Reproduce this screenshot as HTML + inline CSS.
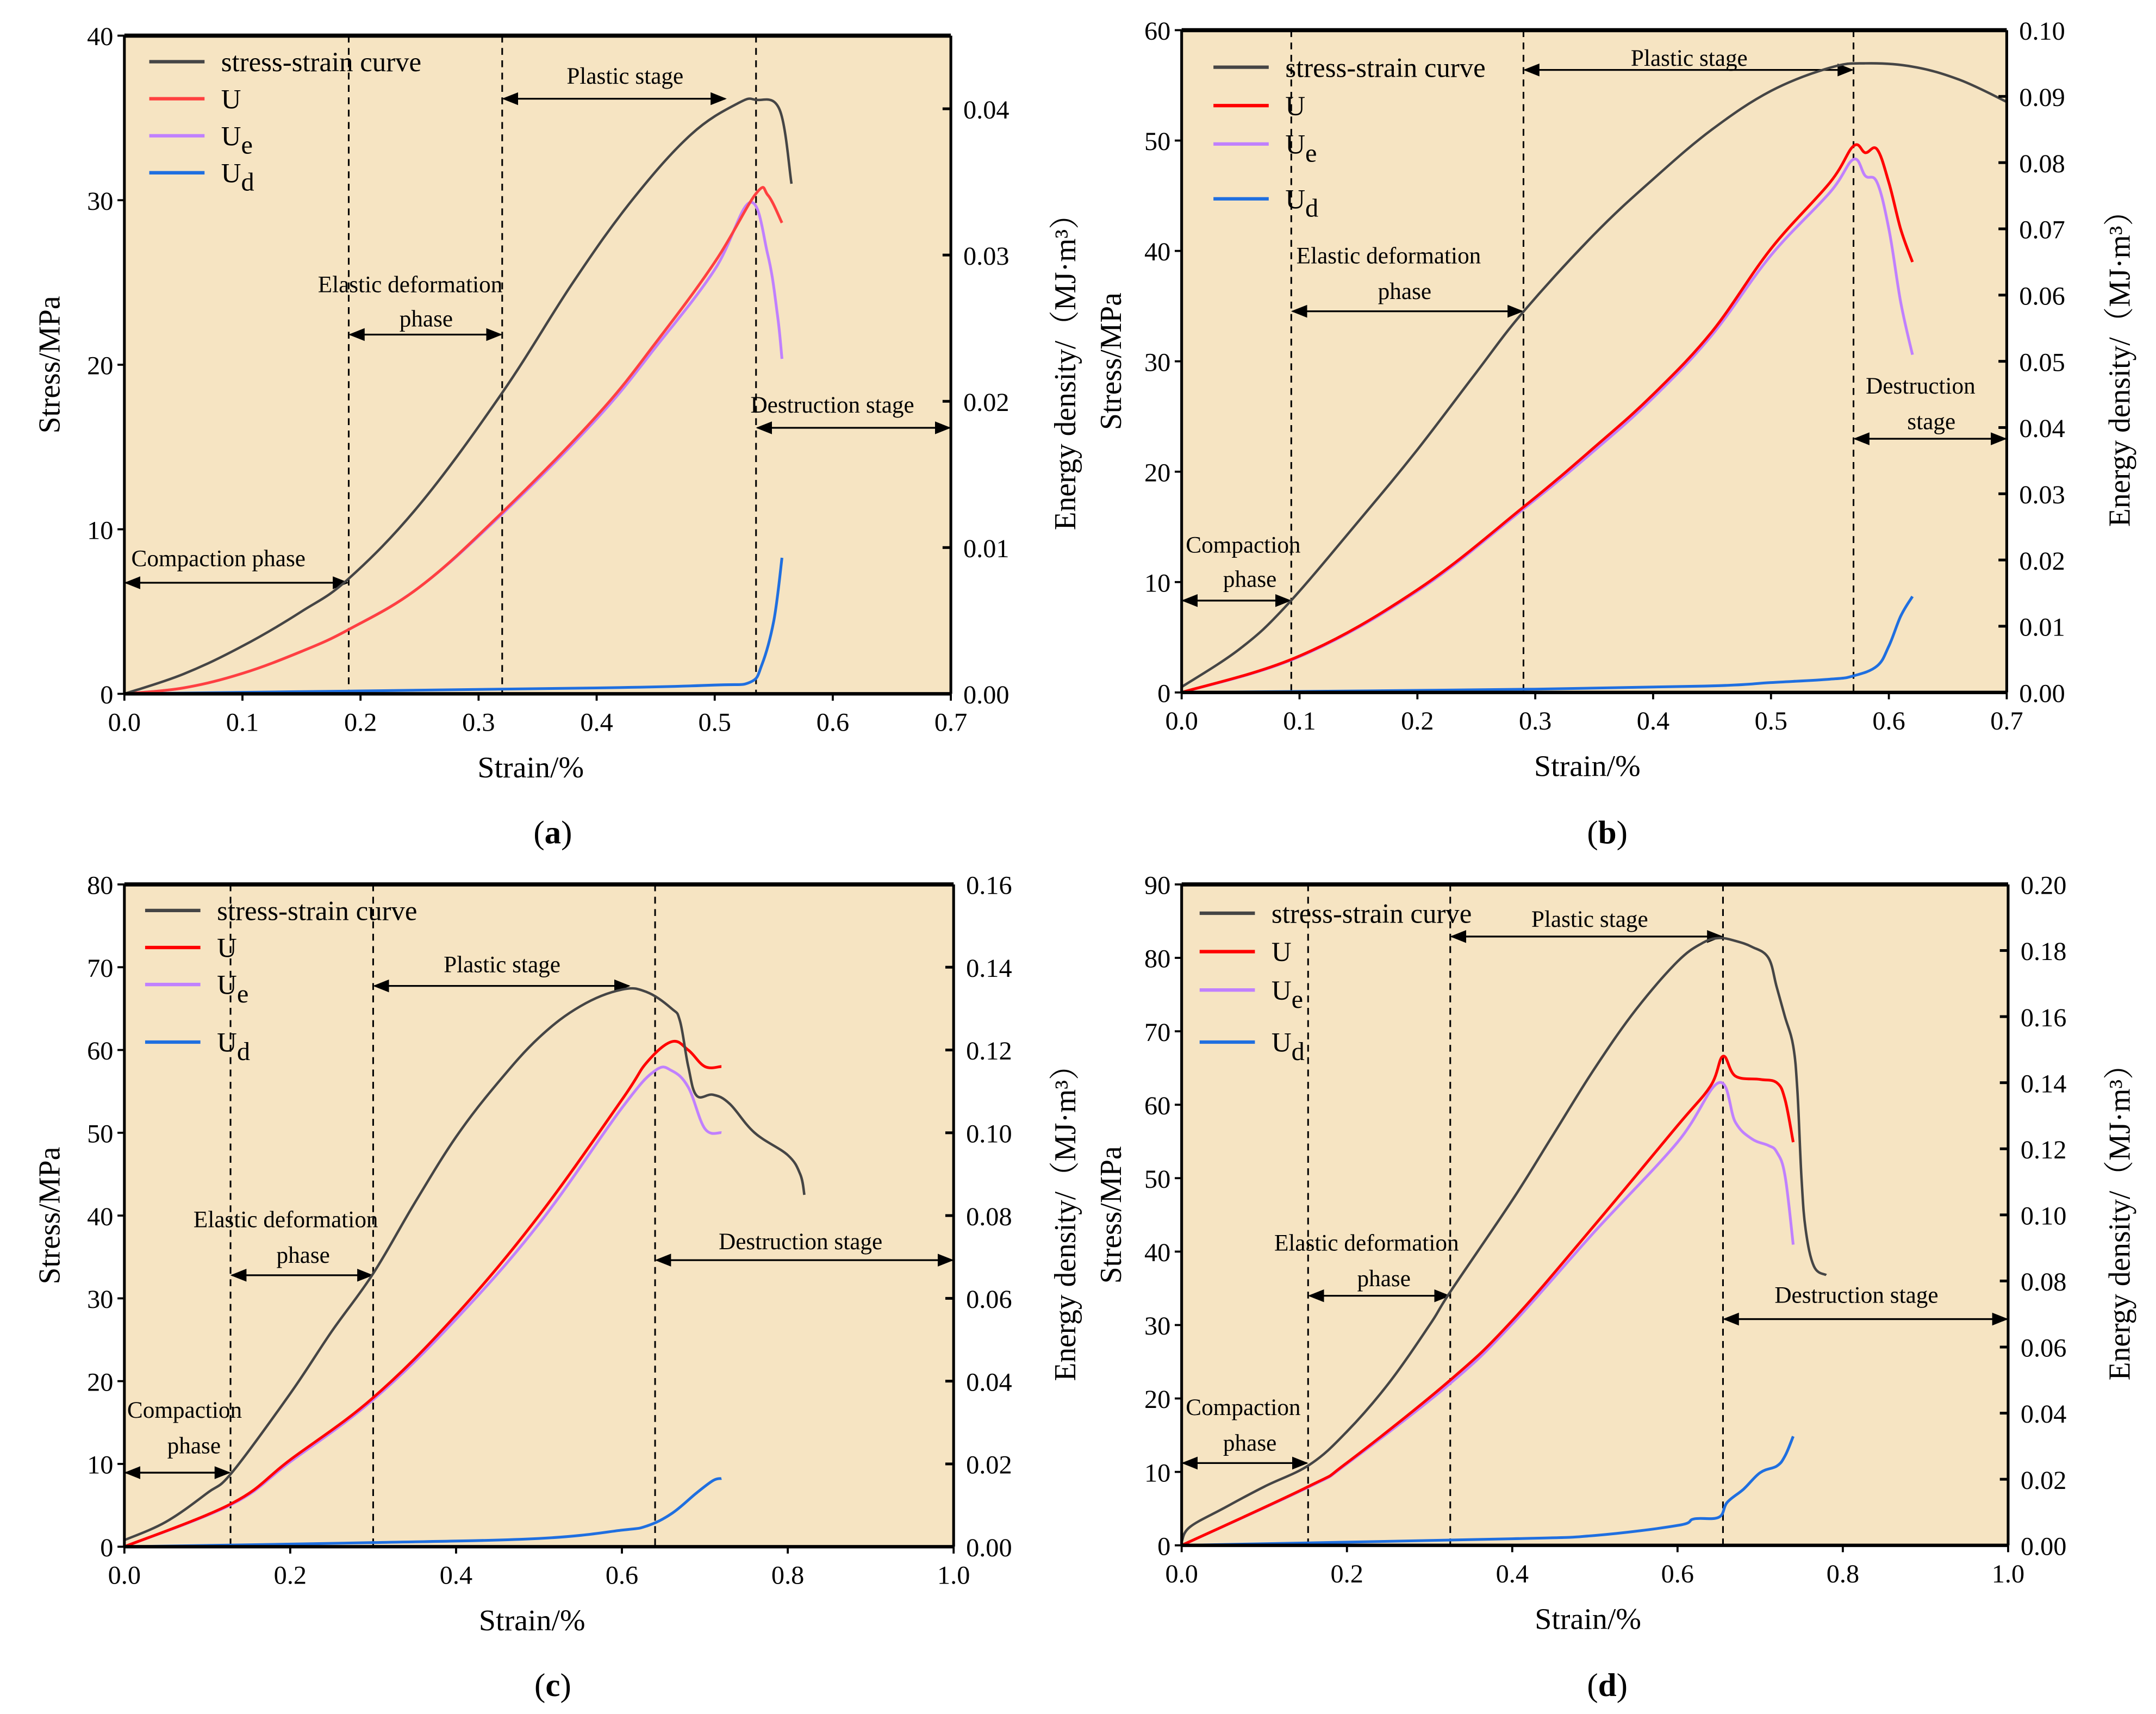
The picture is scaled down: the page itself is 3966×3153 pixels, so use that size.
<!DOCTYPE html>
<html><head><meta charset="utf-8"><style>
html,body{margin:0;padding:0;background:#fff;}
svg{display:block;font-family:"Liberation Serif","Noto Serif CJK SC",serif;}
</style></head><body>
<svg id="fig" width="3966" height="3153" viewBox="0 0 1560 1250" preserveAspectRatio="none" xmlns="http://www.w3.org/2000/svg"></svg>
<script>
// ---- Panel (a) data ----
const aStressX=[0,0.05,0.1,0.15,0.19,0.25,0.32,0.38,0.43,0.48,0.52,0.535,0.555,0.565];
const aStressY=[0,1.2,2.9,5,7,11.5,18.3,25,30,34,35.9,36.1,35.5,31];
const aUX=[0,0.05,0.1,0.15,0.19,0.25,0.32,0.4,0.45,0.5,0.535,0.545,0.557];
const aUY=[0,0.0004,0.0014,0.0029,0.0044,0.0073,0.0124,0.019,0.024,0.0295,0.0342,0.0341,0.0322];
const aUeX=[0,0.05,0.1,0.15,0.19,0.25,0.32,0.4,0.45,0.5,0.53,0.545,0.553,0.557];
const aUeY=[0,0.0004,0.0014,0.0029,0.0044,0.0073,0.0123,0.0188,0.0237,0.029,0.0336,0.030,0.026,0.0229];
const aUdX=[0,0.2,0.4,0.5,0.53,0.54,0.55,0.557];
const aUdY=[0,0.0002,0.0004,0.0006,0.0008,0.002,0.005,0.0093];
// ---- Panel (b) data ----
const bStressX=[0,0.05,0.09,0.15,0.2,0.25,0.29,0.35,0.4,0.45,0.5,0.55,0.58,0.62,0.66,0.7];
const bStressY=[0.5,4,8,15.5,22,29,34.5,41.5,46.5,51,54.5,56.6,57,56.7,55.5,53.5];
const bUX=[0,0.1,0.2,0.29,0.35,0.4,0.45,0.5,0.55,0.57,0.58,0.59,0.6,0.61,0.62];
const bUY=[0,0.0055,0.0155,0.028,0.037,0.045,0.0545,0.067,0.077,0.0825,0.0815,0.082,0.077,0.07,0.065];
const bUeX=[0,0.1,0.2,0.29,0.35,0.4,0.45,0.5,0.55,0.57,0.58,0.59,0.6,0.61,0.62];
const bUeY=[0,0.0054,0.0153,0.0277,0.0365,0.0445,0.054,0.066,0.0755,0.0805,0.078,0.077,0.07,0.059,0.051];
const bUdX=[0,0.3,0.45,0.5,0.55,0.57,0.59,0.6,0.61,0.62];
const bUdY=[0,0.0005,0.001,0.0015,0.002,0.0025,0.004,0.007,0.0115,0.0145];
// ---- Panel (c) data ----
const cStressX=[0,0.05,0.1,0.13,0.2,0.25,0.3,0.35,0.4,0.45,0.5,0.55,0.6,0.63,0.66,0.67,0.68,0.69,0.71,0.73,0.76,0.8,0.815,0.82];
const cStressY=[0.8,3,6.5,9,18.5,26,33,41.5,49.5,56,61.5,65.3,67.3,67,65,63.5,58,54.5,54.6,53.5,50,47.3,45,42.5];
const cUX=[0,0.13,0.2,0.3,0.4,0.5,0.6,0.63,0.66,0.68,0.7,0.72];
const cUY=[0,0.0105,0.021,0.036,0.056,0.08,0.108,0.117,0.122,0.12,0.116,0.116];
const cUeX=[0,0.13,0.2,0.3,0.4,0.5,0.6,0.64,0.66,0.68,0.7,0.72];
const cUeY=[0,0.0103,0.0205,0.0355,0.055,0.078,0.106,0.115,0.115,0.111,0.101,0.1];
const cUdX=[0,0.3,0.5,0.6,0.63,0.66,0.69,0.71,0.72];
const cUdY=[0,0.001,0.002,0.004,0.005,0.008,0.013,0.016,0.0165];
// ---- Panel (d) data ----
const dStressX=[0,0.01,0.05,0.1,0.155,0.2,0.25,0.3,0.325,0.4,0.45,0.5,0.55,0.6,0.63,0.65,0.67,0.69,0.71,0.72,0.73,0.74,0.745,0.75,0.755,0.765,0.78];
const dStressY=[0.5,2.5,5,8,11,15.5,22,30,34.5,47,56,65,73,79.5,82,82.7,82.3,81.5,80,76,72,68,62,50,43,38,36.8];
const dUX=[0,0.155,0.2,0.325,0.4,0.5,0.6,0.64,0.655,0.67,0.7,0.72,0.73,0.74];
const dUY=[0,0.018,0.025,0.05,0.068,0.097,0.127,0.139,0.148,0.142,0.141,0.14,0.135,0.122];
const dUeX=[0,0.155,0.2,0.325,0.4,0.5,0.6,0.65,0.67,0.69,0.71,0.72,0.73,0.74];
const dUeY=[0,0.0178,0.0247,0.049,0.067,0.095,0.122,0.14,0.128,0.123,0.121,0.119,0.112,0.091];
const dUdX=[0,0.4,0.5,0.6,0.62,0.65,0.66,0.68,0.7,0.72,0.73,0.74];
const dUdY=[0,0.002,0.003,0.006,0.008,0.0085,0.013,0.017,0.022,0.024,0.027,0.033];

const NS="http://www.w3.org/2000/svg";
const svg=document.getElementById('fig');
function mk(tag,attrs,parent){const e=document.createElementNS(NS,tag);for(const k in attrs)e.setAttribute(k,attrs[k]);(parent||svg).appendChild(e);return e;}
function txt(s,x,y,size,anchor,parent,name){const t=mk('text',{x:x,y:y,'font-size':size,'text-anchor':anchor||'start',fill:'#000'},parent);t.textContent=s;
return t;}
function smooth(pts){
  let d='M'+pts[0][0].toFixed(1)+','+pts[0][1].toFixed(1);
  const k=0.18;
  for(let i=0;i<pts.length-1;i++){
    const p0=pts[Math.max(i-1,0)],p1=pts[i],p2=pts[i+1],p3=pts[Math.min(i+2,pts.length-1)];
    const c1=[p1[0]+(p2[0]-p0[0])*k,p1[1]+(p2[1]-p0[1])*k];
    const c2=[p2[0]-(p3[0]-p1[0])*k,p2[1]-(p3[1]-p1[1])*k];
    d+='C'+c1[0].toFixed(1)+','+c1[1].toFixed(1)+' '+c2[0].toFixed(1)+','+c2[1].toFixed(1)+' '+p2[0].toFixed(1)+','+p2[1].toFixed(1);
  }
  return d;
}

const panels=[
 {id:'a',L:90,R:688,T:26,B:506,xmax:0.7,xstep:0.1,xdec:1,ymax:40,ystep:10,emax:0.045,eticks:[0,0.01,0.02,0.03,0.04],edec:2,
  s:[aStressX,aStressY],u:[aUX,aUY],ue:[aUeX,aUeY],ud:[aUdX,aUdY],uColor:'#ff4040',
  vlines:[0.19,0.32,0.535],
  arrows:[[0,0.19,425],[0.19,0.32,244],[0.32,0.51,72],[0.535,0.7,312]],
  texts:[['Compaction phase',95,413],['Elastic deformation',230,213],['phase',289,238],['Plastic stage',410,61],['Destruction stage',543,301]],
  leg:[45,72,99,126],legX:108,cap:[400,615],lt:35,rt:770},
 {id:'b',L:855,R:1452,T:22,B:505,xmax:0.7,xstep:0.1,xdec:1,ymax:60,ystep:10,emax:0.10,eticks:[0,0.01,0.02,0.03,0.04,0.05,0.06,0.07,0.08,0.09,0.10],edec:2,
  s:[bStressX,bStressY],u:[bUX,bUY],ue:[bUeX,bUeY],ud:[bUdX,bUdY],uColor:'#ff0000',
  vlines:[0.093,0.29,0.57],
  arrows:[[0,0.093,438],[0.093,0.29,227],[0.29,0.57,51],[0.57,0.7,320]],
  texts:[['Compaction',858,403],['phase',885,428],['Elastic deformation',938,192],['phase',997,218],['Plastic stage',1180,48],['Destruction',1350,287],['stage',1380,313]],
  leg:[49,77,105,145],legX:878,cap:[1163,615],lt:803,rt:1533},
 {id:'c',L:90,R:690,T:645,B:1128,xmax:1.0,xstep:0.2,xdec:1,ymax:80,ystep:10,emax:0.16,eticks:[0,0.02,0.04,0.06,0.08,0.10,0.12,0.14,0.16],edec:2,
  s:[cStressX,cStressY],u:[cUX,cUY],ue:[cUeX,cUeY],ud:[cUdX,cUdY],uColor:'#ff0000',
  vlines:[0.128,0.3,0.64],
  arrows:[[0,0.128,1074],[0.128,0.3,930],[0.3,0.61,719],[0.64,1.0,919]],
  texts:[['Compaction',92,1034],['phase',121,1060],['Elastic deformation',140,895],['phase',200,921],['Plastic stage',321,709],['Destruction stage',520,911]],
  leg:[664,691,718,760],legX:105,cap:[400,1237],lt:35,rt:770},
 {id:'d',L:855,R:1453,T:645,B:1127,xmax:1.0,xstep:0.2,xdec:1,ymax:90,ystep:10,emax:0.20,eticks:[0,0.02,0.04,0.06,0.08,0.10,0.12,0.14,0.16,0.18,0.20],edec:2,
  s:[dStressX,dStressY],u:[dUX,dUY],ue:[dUeX,dUeY],ud:[dUdX,dUdY],uColor:'#ff0000',
  vlines:[0.153,0.325,0.655],
  arrows:[[0,0.153,1067],[0.153,0.325,945],[0.325,0.655,683],[0.655,1.0,962]],
  texts:[['Compaction',858,1032],['phase',885,1058],['Elastic deformation',922,912],['phase',982,938],['Plastic stage',1108,676],['Destruction stage',1284,950]],
  leg:[666,694,722,760],legX:868,cap:[1163,1237],lt:803,rt:1533}
];

mk('defs',{}).innerHTML='<marker id="ah" viewBox="0 0 10 10" refX="9" refY="5" markerWidth="9" markerHeight="9" orient="auto-start-reverse"><path d="M0,1 L10,5 L0,9 z" fill="#000"/></marker>';

panels.forEach(p=>{
  const g=mk('g',{});
  
  
  const sx=v=>p.L+v/p.xmax*(p.R-p.L);
  const sy=v=>p.B-v/p.ymax*(p.B-p.T);
  const se=v=>p.B-v/p.emax*(p.B-p.T);
  const bg=mk('rect',{x:p.L,y:p.T,width:p.R-p.L,height:p.B-p.T,fill:'#f6e4c2'},g);
  
  
  p.vlines.forEach(v=>{const l=mk('line',{x1:sx(v),x2:sx(v),y1:p.T,y2:p.B,stroke:'#000','stroke-width':1.2,'stroke-dasharray':'5,4'},g);
    
    });
  p.arrows.forEach(a=>{const l=mk('line',{x1:sx(a[0])+1,x2:sx(a[1])-1,y1:a[2],y2:a[2],stroke:'#000','stroke-width':1.3,'marker-start':'url(#ah)','marker-end':'url(#ah)'},g);
    
    });
  p.texts.forEach(t=>txt(t[0],t[1],t[2],17,'start',g,'phase-label'));
  const series=[[p.ud,'#1f6fe0','ud'],[p.ue,'#c080ff','ue'],[p.u,p.uColor,'u'],[p.s,'#454545','stress']];
  series.forEach(s=>{
    const xs=s[0][0],ys=s[0][1];const f=s[2]==='stress'?sy:se;
    const pts=xs.map((x,i)=>[sx(x),f(ys[i])]);
    const path=mk('path',{d:smooth(pts),fill:'none',stroke:s[1],'stroke-width':s[2]==='stress'?1.8:2,'stroke-linejoin':'round'},g);
    
    
  });
  mk('line',{x1:p.L,x2:p.R,y1:p.T,y2:p.T,stroke:'#000','stroke-width':3},g);
  mk('line',{x1:p.L,x2:p.R,y1:p.B,y2:p.B,stroke:'#000','stroke-width':2.5},g);
  mk('line',{x1:p.L,x2:p.L,y1:p.T,y2:p.B,stroke:'#000','stroke-width':2},g);
  mk('line',{x1:p.R,x2:p.R,y1:p.T,y2:p.B,stroke:'#000','stroke-width':2},g);
  for(let v=0;v<=p.xmax+1e-9;v+=p.xstep){const x=sx(v);mk('line',{x1:x,x2:x,y1:p.B,y2:p.B+5,stroke:'#000','stroke-width':1.5},g);
    txt(v.toFixed(p.xdec),x,p.B+27,19,'middle',g,'x-tick-label');}
  for(let v=0;v<=p.ymax+1e-9;v+=p.ystep){const y=sy(v);mk('line',{x1:p.L-5,x2:p.L,y1:y,y2:y,stroke:'#000','stroke-width':1.5},g);
    txt(String(v),p.L-8,y+7,19,'end',g,'y-tick-label');}
  p.eticks.forEach(v=>{const y=se(v);mk('line',{x1:p.R-6,x2:p.R,y1:y,y2:y,stroke:'#000','stroke-width':2},g);
    txt(v.toFixed(2),p.R+9,y+7,19,'start',g,'energy-tick-label');});
  txt('Strain/%',(p.L+p.R)/2-5,p.B+61,22,'middle',g,'x-axis-title');
  const cy=(p.T+p.B)/2;
  const lt=txt('Stress/MPa',0,0,22,'middle',g,'y-axis-title');lt.setAttribute('transform','translate('+(p.lt+8)+','+cy+') rotate(-90)');
  const rt=txt('Energy density/（MJ·m³）',0,0,22,'middle',g,'energy-axis-title');rt.setAttribute('transform','translate('+(p.rt+8)+','+cy+') rotate(-90)');
  const cap=mk('text',{x:p.cap[0],y:p.cap[1],'font-size':24,'text-anchor':'middle'},g);
  
  
  cap.innerHTML='(<tspan font-weight="bold">'+p.id+'</tspan>)';
  const legs=[['stress-strain curve','#454545',''],['U',p.uColor,''],['U','#c080ff','e'],['U','#1f6fe0','d']];
  legs.forEach((l,i)=>{const y=p.leg[i];
    const ln=mk('line',{x1:p.legX,x2:p.legX+40,y1:y,y2:y,stroke:l[1],'stroke-width':2.5},g);
    
    
    const t=mk('text',{x:p.legX+52,y:y+7,'font-size':20},g);
    
    
    t.innerHTML=l[0]+(l[2]?'<tspan dy="6" font-size="19">'+l[2]+'</tspan>':'');
  });
});
</script>
</body></html>
